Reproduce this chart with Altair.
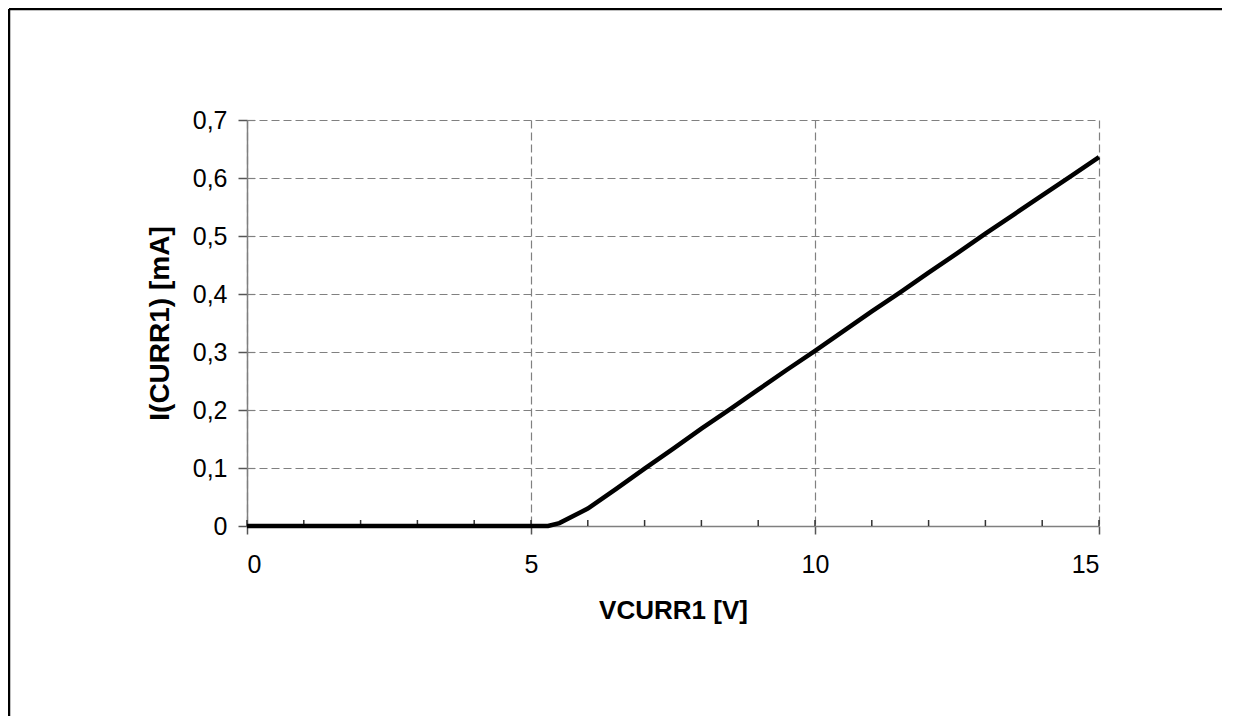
import altair as alt
import pandas as pd

# Measured curve: VCURR1 [V] vs I(CURR1) [mA]
v_values = [0.0, 1.0, 2.0, 3.0, 4.0, 5.0, 5.3, 5.5, 6.0, 6.5, 7.0, 7.5, 8.0, 8.5,
            9.0, 9.5, 10.0, 10.5, 11.0, 11.5, 12.0, 12.5, 13.0, 13.5, 14.0, 14.5, 15.0]
i_values = [0.0, 0.0, 0.0, 0.0, 0.0, 0.0, 0.0, 0.005, 0.030, 0.064, 0.099, 0.133, 0.168, 0.201,
            0.235, 0.269, 0.302, 0.336, 0.370, 0.403, 0.437, 0.470, 0.504, 0.537, 0.570, 0.603, 0.636]

x_ticks = [0, 5, 10, 15]
x_minor = [0, 1, 2, 3, 4, 5, 6, 7, 8, 9, 10, 11, 12, 13, 14, 15]
y_ticks = [0, 0.1, 0.2, 0.3, 0.4, 0.5, 0.6, 0.7]

FONT = "Liberation Sans"
W, H = 852, 406
PAD_L, PAD_T, PAD_R, PAD_B = 239, 112, 135, 190

df = pd.DataFrame({"v": v_values, "i": i_values})
minor_df = pd.DataFrame({"v": x_minor})

xscale = alt.Scale(domain=[0, 15], nice=False, zero=False)
yscale = alt.Scale(domain=[0, 0.7], nice=False)

xaxis = alt.Axis(
    title="VCURR1 [V]", values=x_ticks, format="d",
    grid=True, gridColor="#808080", gridDash=[8, 4], gridWidth=1.2,
    domainColor="#7f7f7f", domainWidth=1.5,
    tickColor="#555555", tickSize=8, tickWidth=1.5,
    labelFont=FONT, labelFontSize=25, labelColor="black", labelPadding=18,
    titleFont=FONT, titleFontSize=26, titleFontWeight="bold", titleColor="black",
    titlePadding=20,
)
yaxis = alt.Axis(
    title="I(CURR1) [mA]", values=y_ticks,
    labelExpr="replace(format(datum.value, '.1f'), '.', ',') == '0,0' ? '0' : replace(format(datum.value, '.1f'), '.', ',')",
    grid=True, gridColor="#808080", gridDash=[8, 4], gridWidth=1.2,
    domainColor="#7f7f7f", domainWidth=1.5,
    tickColor="#555555", tickSize=9, tickWidth=1.5,
    labelFont=FONT, labelFontSize=25, labelColor="black", labelPadding=11,
    titleFont=FONT, titleFontSize=28, titleFontWeight="bold", titleColor="black",
    titlePadding=18,
)

line = alt.Chart(df).mark_line(color="black", strokeWidth=4.5, clip=False).encode(
    x=alt.X("v:Q", scale=xscale, axis=xaxis),
    y=alt.Y("i:Q", scale=yscale, axis=yaxis),
)

minor_ticks = alt.Chart(minor_df).mark_rule(color="#333333", strokeWidth=1.5).encode(
    x=alt.X("v:Q", scale=xscale),
    y=alt.value(H - 6),
    y2=alt.value(H),
)

frame_top = alt.Chart(pd.DataFrame({"k": [0]})).mark_rule(color="black", strokeWidth=2.5).encode(
    x=alt.value(-PAD_L + 1), x2=alt.value(W + PAD_R - 12), y=alt.value(-PAD_T + 1)
)
frame_left = alt.Chart(pd.DataFrame({"k": [0]})).mark_rule(color="black", strokeWidth=2.5).encode(
    x=alt.value(-PAD_L + 1), y=alt.value(-PAD_T + 1), y2=alt.value(H + PAD_B)
)

chart = alt.layer(minor_ticks, line, frame_top, frame_left).properties(
    width=W, height=H,
    autosize=alt.AutoSizeParams(type="none"),
    padding={"left": PAD_L, "top": PAD_T, "right": PAD_R, "bottom": PAD_B},
    background="white",
).configure_view(stroke=None)

chart.save("out.html", embed_options={"renderer": "svg", "actions": False})
